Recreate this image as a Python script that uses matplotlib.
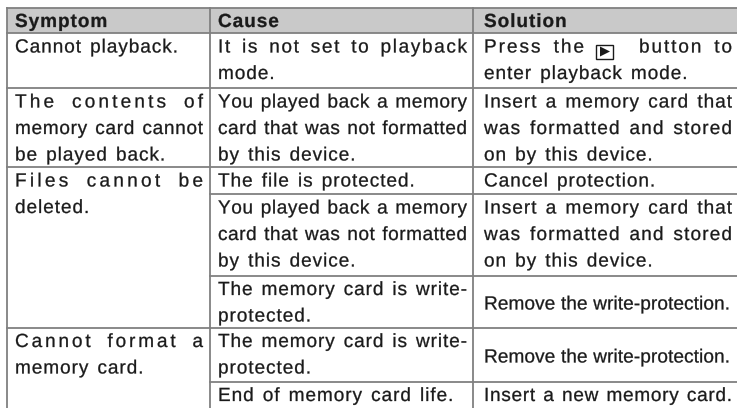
import matplotlib
matplotlib.use("Agg")
import matplotlib.pyplot as plt
from matplotlib import font_manager as fm
from matplotlib.font_manager import FontProperties
from matplotlib.ft2font import LoadFlags
from matplotlib.patches import Rectangle, Polygon
from matplotlib.path import Path
from matplotlib.patheffects import AbstractPathEffect
from matplotlib.textpath import text_to_path
from matplotlib.transforms import Affine2D

headers = ["Symptom", "Cause", "Solution"]

# lines of each cell, (text, justified)
symptoms = [
    [("Cannot playback.", False)],
    [("The contents of", True), ("memory card cannot", True), ("be played back.", False)],
    [("Files cannot be", True), ("deleted.", False)],
    [("Cannot format a", True), ("memory card.", False)],
]
causes = [
    [("It is not set to playback", True), ("mode.", False)],
    [("You played back a memory", True), ("card that was not formatted", True), ("by this device.", False)],
    [("The file is protected.", False)],
    [("You played back a memory", True), ("card that was not formatted", True), ("by this device.", False)],
    [("The memory card is write-", True), ("protected.", False)],
    [("The memory card is write-", True), ("protected.", False)],
    [("End of memory card life.", False)],
]
solutions = [
    [("", False), ("enter playback mode.", False)],
    [("Insert a memory card that", True), ("was formatted and stored", True), ("on by this device.", False)],
    [("Cancel protection.", False)],
    [("Insert a memory card that", True), ("was formatted and stored", True), ("on by this device.", False)],
    [("Remove the write-protection.", False)],
    [("Remove the write-protection.", False)],
    [("Insert a new memory card.", True)],
]

# pixel layout
W, H = 737, 408
col_x = [7.5, 210.5, 473.5, 737]
text_x = [15, 218, 484]
text_r = [203, 467, 732]
rows_y = [33, 88, 167, 194, 275.5, 327.5, 381.5, 408]
top_y = 7.5
line_h = 26.5
line_col = "#808080"
FONT = "Liberation Sans"
SIZE = 13.7
TRACK = 0.95
TIGHT = 0.1

fig = plt.figure(figsize=(W / 100, H / 100), dpi=100)
ax = fig.add_axes([0, 0, 1, 1])
ax.set_xlim(0, W)
ax.set_ylim(H, 0)
ax.axis("off")


def advances(s, prop):
    font = fm.get_font(fm.findfont(prop))
    font.set_size(prop.get_size_in_points(), 100)
    return [font.load_char(ord(c), flags=LoadFlags.NO_HINTING).linearHoriAdvance / 65536 for c in s]


# matplotlib has no letter spacing, so the text path is redrawn glyph by glyph
class Spaced(AbstractPathEffect):
    def __init__(self, s, prop, width=None, track=TRACK):
        super().__init__()
        self.glyphs = []
        adv = advances(s, prop)
        weights = [3 if c == " " else 1 for c in s[:-1]]
        if width is not None:
            track = (width - sum(adv)) / sum(weights)
        x = 0
        for c, a, w in zip(s, adv, weights + [0]):
            if c != " ":
                verts, codes = text_to_path.get_text_path(prop, c)
                self.glyphs.append((Path(verts, codes), x))
            x += a + w * track

    def draw_path(self, renderer, gc, tpath, affine, rgbFace=None):
        # no snapping, it squares off dots and stems; thin outline for weight
        gc.set_snap(False)
        gc.set_linewidth(0.2)
        for path, x in self.glyphs:
            renderer.draw_path(gc, path, affine + Affine2D().translate(x, 0), rgbFace)


def put(x0, y, s, x1=None, track=TRACK, weight="normal"):
    prop = FontProperties(family=FONT, size=SIZE, weight=weight)
    width = None if x1 is None else x1 - x0
    t = ax.text(x0, y, s, fontproperties=prop, color="#1a1a1a", va="baseline", ha="left")
    t.set_path_effects([Spaced(s, prop, width, track)])


def draw_cell(col, y_top, lines, centered_h=None):
    y = y_top + 19.5
    if centered_h:
        y = y_top + centered_h / 2 + 8
    for s, just in lines:
        if s:
            put(text_x[col], y, s, text_r[col] if just else None, TIGHT if centered_h else TRACK)
        y += line_h


# header band and grid
ax.add_patch(Rectangle((col_x[0], top_y), W - col_x[0], rows_y[0] - top_y, fc="#c9c9c9", ec="none"))
for i, h in enumerate(headers):
    put(text_x[i], 27, h, weight="bold")

ax.plot([col_x[0], W], [top_y, top_y], color=line_col, lw=1.3)
for x in col_x[:3]:
    ax.plot([x, x], [top_y, H], color=line_col, lw=1.3)
for i, y in enumerate(rows_y[:-1]):
    # rows inside a symptom group only rule off the last two columns
    x0 = col_x[1] if i in (3, 4, 6) else col_x[0]
    ax.plot([x0, W], [y, y], color=line_col, lw=1.3)

# cell text
sym_rows = [0, 1, 2, 5]
for row, lines in zip(sym_rows, symptoms):
    draw_cell(0, rows_y[row], lines)
for row, lines in enumerate(causes):
    draw_cell(1, rows_y[row], lines)
for row, lines in enumerate(solutions):
    tall = rows_y[row + 1] - rows_y[row]
    single = len(lines) == 1 and tall > 40
    draw_cell(2, rows_y[row], lines, centered_h=tall if single else None)

# playback button line: words either side of the icon
put(484, 52.5, "Press the", x1=584)
ax.add_patch(Rectangle((596.5, 44.5), 17, 14, fc="white", ec="#1a1a1a", lw=1))
ax.add_patch(Polygon([[600, 46.5], [600, 56.5], [610, 51.5]], fc="#1a1a1a", ec="none"))
put(639, 52.5, "button to", x1=732)

fig.savefig("out.png", dpi=100)
